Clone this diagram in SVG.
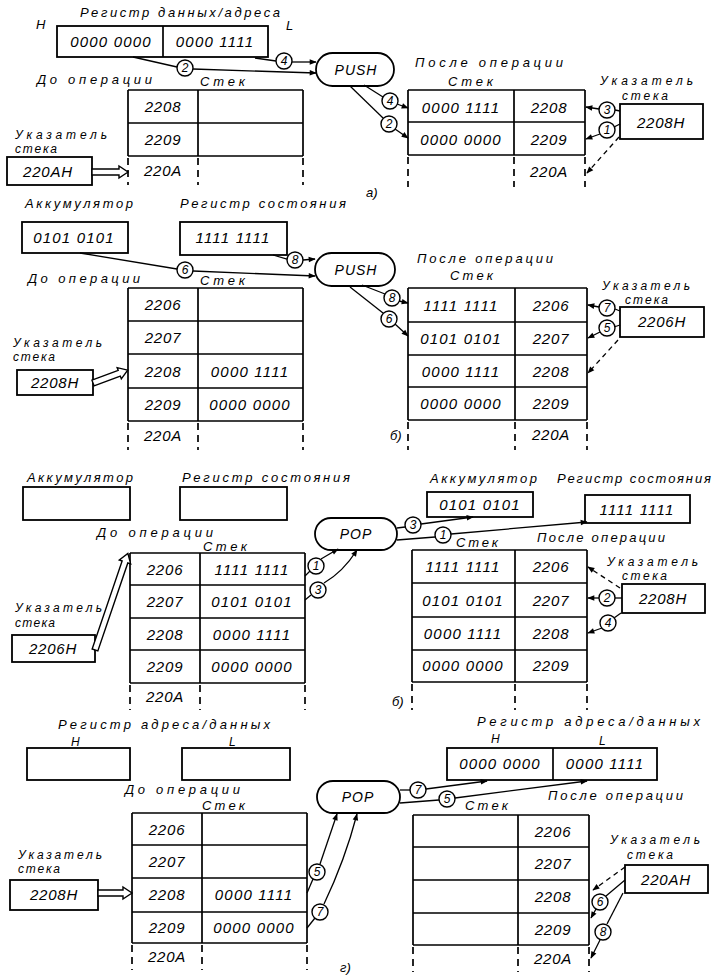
<svg xmlns="http://www.w3.org/2000/svg" width="713" height="978" viewBox="0 0 713 978">
<defs>
<style>
.bx{fill:#fff;stroke:#000;stroke-width:1.8}
.ln{fill:none;stroke:#000;stroke-width:1.7}
.dl{fill:none;stroke:#000;stroke-width:1.7;stroke-dasharray:7 5}
.cn{fill:none;stroke:#000;stroke-width:1.3}
.cd{fill:none;stroke:#000;stroke-width:1.3;stroke-dasharray:5 4}
.ha{fill:#fff;stroke:#000;stroke-width:1.4}
.cc{fill:#fff;stroke:#000;stroke-width:1.4}
text{font-family:"Liberation Sans",Arial,sans-serif;font-style:italic;fill:#000}
.lb{font-size:13px}
.sm{font-size:12px}
.v{font-size:15px;letter-spacing:1.2px;text-anchor:middle}
.ad{font-size:15px;letter-spacing:0.8px;text-anchor:middle}
.n{font-size:12px;text-anchor:middle}
.op{font-size:14px;letter-spacing:1px;text-anchor:middle}
</style>
<marker id="ah" viewBox="0 0 10 10" refX="9" refY="5" markerUnits="userSpaceOnUse" markerWidth="8" markerHeight="7" orient="auto"><path d="M0,1 L10,5 L0,9 z"/></marker>
</defs>
<rect width="713" height="978" fill="#fff"/>

<!-- ================= Panel a ================= -->
<g id="labels-a">
<text class="lb" x="36" y="29" font-size="14">H</text>
<text class="lb" x="80" y="17" textLength="200" lengthAdjust="spacing">Регистр данных/адреса</text>
<text class="lb" x="286" y="30" font-size="14">L</text>
<text class="lb" x="37" y="84" textLength="115" lengthAdjust="spacing">До операции</text>
<text class="lb" x="200" y="86" textLength="45" lengthAdjust="spacing">Стек</text>
<text class="sm" x="15" y="139" textLength="92" lengthAdjust="spacing">Указатель</text>
<text class="sm" x="15" y="153" textLength="42" lengthAdjust="spacing">стека</text>
<text class="lb" x="415" y="67" textLength="148" lengthAdjust="spacing">После операции</text>
<text class="lb" x="448" y="86" textLength="45" lengthAdjust="spacing">Стек</text>
<text class="sm" x="600" y="85" textLength="93" lengthAdjust="spacing">Указатель</text>
<text class="sm" x="622" y="100" textLength="46" lengthAdjust="spacing">стека</text>
<text class="lb" x="366" y="197" font-size="14">а)</text>
</g>
<g id="reg-a">
<rect class="bx" x="57" y="26" width="211" height="31"/>
<path class="ln" d="M163,26 V57"/>
<text class="v" x="111" y="47">0000 0000</text>
<text class="v" x="215" y="47">0000 1111</text>
</g>
<g id="push-a">
<rect class="bx" x="316" y="53" width="78" height="33" rx="16.5"/>
<text class="op" x="356" y="75">PUSH</text>
</g>
<g id="stack-a-before">
<path class="ln" d="M128,90 H303 M128,123 H303 M128,156 H303 M128,90 V156 M198,90 V156 M303,90 V156"/>
<path class="dl" d="M128,158 V185 M198,158 V185 M303,158 V185"/>
<text class="ad" x="163" y="112">2208</text>
<text class="ad" x="163" y="145">2209</text>
<text class="ad" x="163" y="176">220A</text>
</g>
<g id="sp-a-before">
<rect class="bx" x="7" y="157" width="85" height="28"/>
<text class="ad" x="48" y="177">220AH</text>
</g>
<g id="stack-a-after">
<path class="ln" d="M408,90 H585 M408,122 H585 M408,155 H585 M408,90 V155 M514,90 V155 M585,90 V155"/>
<path class="dl" d="M408,157 V187 M514,157 V187 M585,157 V187"/>
<text class="v" x="461" y="113">0000 1111</text>
<text class="ad" x="549" y="113">2208</text>
<text class="v" x="461" y="145">0000 0000</text>
<text class="ad" x="549" y="145">2209</text>
<text class="ad" x="549" y="177">220A</text>
</g>
<g id="sp-a-after">
<rect class="bx" x="620" y="104" width="83" height="35"/>
<text class="ad" x="661" y="128">2208H</text>
</g>

<!-- ================= Panel b ================= -->
<g id="labels-b">
<text class="lb" x="25" y="208" textLength="108" lengthAdjust="spacing">Аккумулятор</text>
<text class="lb" x="180" y="208" textLength="166" lengthAdjust="spacing">Регистр состояния</text>
<text class="lb" x="28" y="283" textLength="112" lengthAdjust="spacing">До операции</text>
<text class="lb" x="200" y="285" textLength="45" lengthAdjust="spacing">Стек</text>
<text class="sm" x="13" y="347" textLength="89" lengthAdjust="spacing">Указатель</text>
<text class="sm" x="13" y="361" textLength="42" lengthAdjust="spacing">стека</text>
<text class="lb" x="417" y="263" textLength="136" lengthAdjust="spacing">После операции</text>
<text class="lb" x="450" y="280" textLength="43" lengthAdjust="spacing">Стек</text>
<text class="sm" x="602" y="290" textLength="88" lengthAdjust="spacing">Указатель</text>
<text class="sm" x="625" y="304" textLength="43" lengthAdjust="spacing">стека</text>
<text class="lb" x="390" y="440" font-size="14">б)</text>
</g>
<g id="acc-b">
<rect class="bx" x="22" y="222" width="106" height="31"/>
<text class="v" x="74" y="243">0101 0101</text>
</g>
<g id="flags-b">
<rect class="bx" x="180" y="222" width="107" height="33"/>
<text class="v" x="233" y="243">1111 1111</text>
</g>
<g id="push-b">
<rect class="bx" x="315" y="253" width="80" height="33" rx="16.5"/>
<text class="op" x="356" y="275">PUSH</text>
</g>
<g id="stack-b-before">
<path class="ln" d="M128,288 H303 M128,321 H303 M128,354 H303 M128,388 H303 M128,421 H303 M128,288 V421 M198,288 V421 M303,288 V421"/>
<path class="dl" d="M128,423 V450 M198,423 V450 M303,423 V450"/>
<text class="ad" x="163" y="310">2206</text>
<text class="ad" x="163" y="343">2207</text>
<text class="ad" x="163" y="377">2208</text>
<text class="v" x="250" y="377">0000 1111</text>
<text class="ad" x="163" y="410">2209</text>
<text class="v" x="250" y="410">0000 0000</text>
<text class="ad" x="163" y="441">220A</text>
</g>
<g id="sp-b-before">
<rect class="bx" x="17" y="370" width="76" height="25"/>
<text class="ad" x="55" y="388">2208H</text>
</g>
<g id="stack-b-after">
<path class="ln" d="M408,288 H587 M408,322 H587 M408,355 H587 M408,387 H587 M408,420 H587 M408,288 V420 M515,288 V420 M587,288 V420"/>
<path class="dl" d="M408,422 V450 M515,422 V450 M587,422 V450"/>
<text class="v" x="461" y="311">1111 1111</text>
<text class="ad" x="551" y="311">2206</text>
<text class="v" x="461" y="344">0101 0101</text>
<text class="ad" x="551" y="344">2207</text>
<text class="v" x="461" y="377">0000 1111</text>
<text class="ad" x="551" y="377">2208</text>
<text class="v" x="461" y="409">0000 0000</text>
<text class="ad" x="551" y="409">2209</text>
<text class="ad" x="551" y="440">220A</text>
</g>
<g id="sp-b-after">
<rect class="bx" x="620" y="307" width="84" height="30"/>
<text class="ad" x="662" y="327">2206H</text>
</g>

<!-- ================= Panel c ================= -->
<g id="labels-c">
<text class="lb" x="27" y="482" textLength="106" lengthAdjust="spacing">Аккумулятор</text>
<text class="lb" x="182" y="482" textLength="168" lengthAdjust="spacing">Регистр состояния</text>
<text class="lb" x="97" y="537" textLength="116" lengthAdjust="spacing">До операции</text>
<text class="lb" x="203" y="551" textLength="44" lengthAdjust="spacing">Стек</text>
<text class="sm" x="15" y="612" textLength="87" lengthAdjust="spacing">Указатель</text>
<text class="sm" x="15" y="627" textLength="40" lengthAdjust="spacing">стека</text>
<text class="lb" x="430" y="483" textLength="107" lengthAdjust="spacing">Аккумулятор</text>
<text class="lb" x="557" y="483" textLength="154" lengthAdjust="spacing">Регистр состояния</text>
<text class="lb" x="456" y="547" textLength="42" lengthAdjust="spacing">Стек</text>
<text class="lb" x="537" y="542" textLength="128" lengthAdjust="spacing">После операции</text>
<text class="sm" x="607" y="566" textLength="91" lengthAdjust="spacing">Указатель</text>
<text class="sm" x="622" y="580" textLength="45" lengthAdjust="spacing">стека</text>
<text class="lb" x="392" y="706" font-size="14">б)</text>
</g>
<g id="acc-c-before"><rect class="bx" x="23" y="487" width="107" height="33"/></g>
<g id="flags-c-before"><rect class="bx" x="180" y="487" width="107" height="33"/></g>
<g id="pop-c">
<rect class="bx" x="315" y="518" width="82" height="32" rx="16"/>
<text class="op" x="356" y="539">POP</text>
</g>
<g id="stack-c-before">
<path class="ln" d="M130,553 H305 M130,585 H305 M130,618 H305 M130,650 H305 M130,683 H305 M130,553 V683 M200,553 V683 M305,553 V683"/>
<path class="dl" d="M130,685 V710 M200,685 V710 M305,685 V710"/>
<text class="ad" x="165" y="575">2206</text>
<text class="v" x="252" y="575">1111 1111</text>
<text class="ad" x="165" y="607">2207</text>
<text class="v" x="252" y="607">0101 0101</text>
<text class="ad" x="165" y="640">2208</text>
<text class="v" x="252" y="640">0000 1111</text>
<text class="ad" x="165" y="672">2209</text>
<text class="v" x="252" y="672">0000 0000</text>
<text class="ad" x="165" y="702">220A</text>
</g>
<g id="sp-c-before">
<rect class="bx" x="12" y="635" width="83" height="27"/>
<text class="ad" x="53" y="654">2206H</text>
</g>
<g id="acc-c-after">
<rect class="bx" x="427" y="492" width="106" height="25"/>
<text class="v" x="480" y="510">0101 0101</text>
</g>
<g id="flags-c-after">
<rect class="bx" x="585" y="495" width="105" height="28"/>
<text class="v" x="637" y="515">1111 1111</text>
</g>
<g id="stack-c-after">
<path class="ln" d="M412,550 H587 M412,583 H587 M412,617 H587 M412,650 H587 M412,682 H587 M412,550 V682 M515,550 V682 M587,550 V682"/>
<path class="dl" d="M412,684 V710 M515,684 V710 M587,684 V710"/>
<text class="v" x="463" y="572">1111 1111</text>
<text class="ad" x="551" y="572">2206</text>
<text class="v" x="463" y="606">0101 0101</text>
<text class="ad" x="551" y="606">2207</text>
<text class="v" x="463" y="639">0000 1111</text>
<text class="ad" x="551" y="639">2208</text>
<text class="v" x="463" y="671">0000 0000</text>
<text class="ad" x="551" y="671">2209</text>
</g>
<g id="sp-c-after">
<rect class="bx" x="622" y="584" width="83" height="29"/>
<text class="ad" x="663" y="604">2208H</text>
</g>

<!-- ================= Panel d ================= -->
<g id="labels-d">
<text class="lb" x="58" y="729" textLength="212" lengthAdjust="spacing">Регистр адреса/данных</text>
<text class="sm" x="71" y="746">H</text>
<text class="sm" x="229" y="746">L</text>
<text class="lb" x="125" y="794" textLength="115" lengthAdjust="spacing">До операции</text>
<text class="lb" x="202" y="810" textLength="43" lengthAdjust="spacing">Стек</text>
<text class="sm" x="18" y="859" textLength="84" lengthAdjust="spacing">Указатель</text>
<text class="sm" x="18" y="873" textLength="42" lengthAdjust="spacing">стека</text>
<text class="lb" x="477" y="726" textLength="223" lengthAdjust="spacing">Регистр адреса/данных</text>
<text class="sm" x="491" y="743">H</text>
<text class="sm" x="599" y="745">L</text>
<text class="lb" x="465" y="810" textLength="43" lengthAdjust="spacing">Стек</text>
<text class="lb" x="548" y="800" textLength="135" lengthAdjust="spacing">После операции</text>
<text class="sm" x="610" y="844" textLength="90" lengthAdjust="spacing">Указатель</text>
<text class="sm" x="627" y="859" textLength="46" lengthAdjust="spacing">стека</text>
<text class="lb" x="340" y="972" font-size="14">г)</text>
</g>
<g id="regH-d-before"><rect class="bx" x="27" y="748" width="103" height="32"/></g>
<g id="regL-d-before"><rect class="bx" x="182" y="748" width="108" height="32"/></g>
<g id="pop-d">
<rect class="bx" x="317" y="781" width="83" height="32" rx="16"/>
<text class="op" x="358" y="802">POP</text>
</g>
<g id="stack-d-before">
<path class="ln" d="M132,813 H307 M132,845 H307 M132,878 H307 M132,912 H307 M132,943 H307 M132,813 V943 M202,813 V943 M307,813 V943"/>
<path class="dl" d="M132,945 V970 M202,945 V970 M307,945 V970"/>
<text class="ad" x="167" y="835">2206</text>
<text class="ad" x="167" y="867">2207</text>
<text class="ad" x="167" y="900">2208</text>
<text class="v" x="254" y="900">0000 1111</text>
<text class="ad" x="167" y="933">2209</text>
<text class="v" x="254" y="933">0000 0000</text>
<text class="ad" x="167" y="962">220A</text>
</g>
<g id="sp-d-before">
<rect class="bx" x="10" y="880" width="88" height="30"/>
<text class="ad" x="54" y="900">2208H</text>
</g>
<g id="reg-d-after">
<rect class="bx" x="447" y="748" width="210" height="32"/>
<path class="ln" d="M553,748 V780"/>
<text class="v" x="500" y="769">0000 0000</text>
<text class="v" x="605" y="769">0000 1111</text>
</g>
<g id="stack-d-after">
<path class="ln" d="M413,815 H589 M413,847 H589 M413,880 H589 M413,913 H589 M413,945 H589 M413,815 V945 M518,815 V945 M589,815 V945"/>
<path class="dl" d="M413,947 V972 M518,947 V972 M589,947 V972"/>
<text class="ad" x="553" y="837">2206</text>
<text class="ad" x="553" y="869">2207</text>
<text class="ad" x="553" y="902">2208</text>
<text class="ad" x="553" y="935">2209</text>
<text class="ad" x="553" y="964">220A</text>
</g>
<g id="sp-d-after">
<rect class="bx" x="625" y="865" width="83" height="28"/>
<text class="ad" x="666" y="885">220AH</text>
</g>

<!-- ================= Connectors ================= -->
<g id="connectors">
<path class="ha" transform="translate(92,172)" d="M0,-3 L27,-3 L27,-6 L36,0 L27,6 L27,3 L0,3 Z"/>
<path class="ha" transform="translate(93,383) rotate(-20.4)" d="M0,-3 L28,-3 L28,-6 L37,0 L28,6 L28,3 L0,3 Z"/>
<path class="ha" transform="translate(95,650) rotate(-71.2)" d="M0,-3 L93,-3 L93,-6 L102,0 L93,6 L93,3 L0,3 Z"/>
<path class="ha" transform="translate(98,893)" d="M0,-3 L25,-3 L25,-6 L34,0 L25,6 L25,3 L0,3 Z"/>

<!-- panel a -->
<path class="cn" d="M133,57 L177,67"/>
<path class="cn" d="M193,69 L316,73" marker-end="url(#ah)"/>
<path class="cn" d="M255,58 L276,61"/>
<path class="cn" d="M292,62 L316,62" marker-end="url(#ah)"/>
<path class="cn" d="M364,85 L383,97"/>
<path class="cn" d="M397,104 L408,108" marker-end="url(#ah)"/>
<path class="cn" d="M350,86 L383,118"/>
<path class="cn" d="M395,129 L408,138" marker-end="url(#ah)"/>
<path class="cn" d="M620,111 L615,110"/>
<path class="cn" d="M599,109 L586,107" marker-end="url(#ah)"/>
<path class="cn" d="M620,124 L614,127"/>
<path class="cn" d="M600,134 L586,139" marker-end="url(#ah)"/>
<path class="cd" d="M619,137 L587,173" marker-end="url(#ah)"/>

<!-- panel b -->
<path class="cn" d="M80,253 L177,269"/>
<path class="cn" d="M193,271 L315,276" marker-end="url(#ah)"/>
<path class="cn" d="M273,255 L287,259"/>
<path class="cn" d="M303,260 L315,259" marker-end="url(#ah)"/>
<path class="cn" d="M362,285 L385,294"/>
<path class="cn" d="M399,301 L408,303" marker-end="url(#ah)"/>
<path class="cn" d="M350,287 L383,313"/>
<path class="cn" d="M395,324 L408,336" marker-end="url(#ah)"/>
<path class="cn" d="M620,311 L615,309"/>
<path class="cn" d="M599,307 L588,305" marker-end="url(#ah)"/>
<path class="cn" d="M620,325 L614,327"/>
<path class="cn" d="M600,332 L588,338" marker-end="url(#ah)"/>
<path class="cd" d="M618,340 L588,373" marker-end="url(#ah)"/>

<!-- panel c -->
<path class="cn" d="M305,576 L310,571"/>
<path class="cn" d="M321,559 L338,549" marker-end="url(#ah)"/>
<path class="cn" d="M305,600 L311,595"/>
<path class="cn" d="M324,583 Q343,572 357,550" marker-end="url(#ah)"/>
<path class="cn" d="M397,528 L405,527"/>
<path class="cn" d="M421,524 L473,517" marker-end="url(#ah)"/>
<path class="cn" d="M397,540 L435,537"/>
<path class="cn" d="M451,534 L587,522" marker-end="url(#ah)"/>
<path class="cd" d="M620,588 L588,567" marker-end="url(#ah)"/>
<path class="cn" d="M622,598 L615,598"/>
<path class="cn" d="M599,598 L588,598" marker-end="url(#ah)"/>
<path class="cn" d="M621,613 L614,618"/>
<path class="cn" d="M602,628 L588,633" marker-end="url(#ah)"/>

<!-- panel d -->
<path class="cn" d="M307,893 L313,879"/>
<path class="cn" d="M320,864 L337,814" marker-end="url(#ah)"/>
<path class="cn" d="M307,928 L315,918"/>
<path class="cn" d="M324,904 Q345,860 357,814" marker-end="url(#ah)"/>
<path class="cn" d="M400,790 L410,790"/>
<path class="cn" d="M426,789 L487,781" marker-end="url(#ah)"/>
<path class="cn" d="M400,803 L439,800"/>
<path class="cn" d="M455,798 L587,781" marker-end="url(#ah)"/>
<path class="cd" d="M625,867 L593,890" marker-end="url(#ah)"/>
<path class="cn" d="M625,880 L606,896"/>
<path class="cn" d="M596,909 L591,918" marker-end="url(#ah)"/>
<path class="cn" d="M623,893 L607,924"/>
<path class="cn" d="M600,940 L591,958" marker-end="url(#ah)"/>

<g id="step-labels">
<circle class="cc" cx="185" cy="68" r="8"/><text class="n" x="185" y="72">2</text>
<circle class="cc" cx="284" cy="61" r="8"/><text class="n" x="284" y="65">4</text>
<circle class="cc" cx="390" cy="101" r="8"/><text class="n" x="390" y="105">4</text>
<circle class="cc" cx="389" cy="124" r="8"/><text class="n" x="389" y="128">2</text>
<circle class="cc" cx="607" cy="110" r="8"/><text class="n" x="607" y="114">3</text>
<circle class="cc" cx="607" cy="130" r="8"/><text class="n" x="607" y="134">1</text>

<circle class="cc" cx="185" cy="270" r="8"/><text class="n" x="185" y="274">6</text>
<circle class="cc" cx="295" cy="260" r="8"/><text class="n" x="295" y="264">8</text>
<circle class="cc" cx="392" cy="298" r="8"/><text class="n" x="392" y="302">8</text>
<circle class="cc" cx="389" cy="319" r="8"/><text class="n" x="389" y="323">6</text>
<circle class="cc" cx="607" cy="308" r="8"/><text class="n" x="607" y="312">7</text>
<circle class="cc" cx="607" cy="328" r="8"/><text class="n" x="607" y="332">5</text>

<circle class="cc" cx="316" cy="566" r="8"/><text class="n" x="316" y="570">1</text>
<circle class="cc" cx="318" cy="590" r="8"/><text class="n" x="318" y="594">3</text>
<circle class="cc" cx="413" cy="525" r="8"/><text class="n" x="413" y="529">3</text>
<circle class="cc" cx="443" cy="535" r="8"/><text class="n" x="443" y="539">1</text>
<circle class="cc" cx="607" cy="598" r="8"/><text class="n" x="607" y="602">2</text>
<circle class="cc" cx="608" cy="623" r="8"/><text class="n" x="608" y="627">4</text>

<circle class="cc" cx="317" cy="872" r="8"/><text class="n" x="317" y="876">5</text>
<circle class="cc" cx="320" cy="912" r="8"/><text class="n" x="320" y="916">7</text>
<circle class="cc" cx="418" cy="790" r="8"/><text class="n" x="418" y="794">7</text>
<circle class="cc" cx="447" cy="799" r="8"/><text class="n" x="447" y="803">5</text>
<circle class="cc" cx="600" cy="902" r="8"/><text class="n" x="600" y="906">6</text>
<circle class="cc" cx="603" cy="932" r="8"/><text class="n" x="603" y="936">8</text>
</g>
</g>
</svg>
